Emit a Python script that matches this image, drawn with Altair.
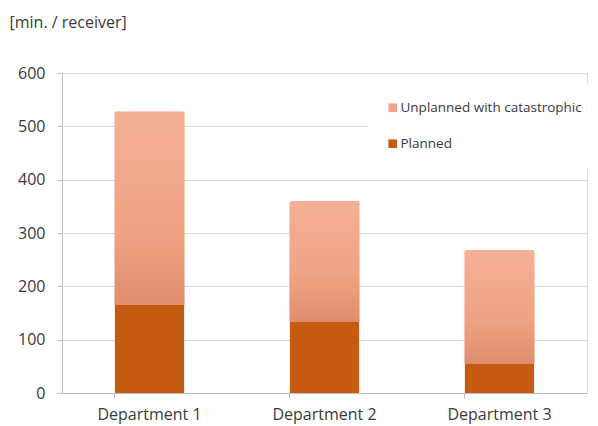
import altair as alt
import pandas as pd

departments = ["Department 1", "Department 2", "Department 3"]
planned = [165, 133, 56]
unplanned = [363, 227, 212]
series = ["Unplanned with catastrophic", "Planned"]
colors = ["#F0A488", "#C55A11"]
y_ticks = [0, 100, 200, 300, 400, 500, 600]

rows = []
for d, p, u in zip(departments, planned, unplanned):
    rows.append({"Department": d, "Series": series[1], "value": p, "order": 0})
    rows.append({"Department": d, "Series": series[0], "value": u, "order": 1})
long_df = pd.DataFrame(rows)

wide_df = pd.DataFrame({
    "Department": departments,
    "planned": planned,
    "total": [p + u for p, u in zip(planned, unplanned)],
})

FONT = "Open Sans"
TXT = "#3A3A3A"

x_enc = alt.X(
    "Department:N",
    sort=departments,
    title=None,
    scale=alt.Scale(paddingInner=0.6, paddingOuter=0.3),
    axis=alt.Axis(
        labelAngle=0, labelFontSize=16, labelColor=TXT, labelFont=FONT,
        domainColor="#BFBFBF", tickColor="#BFBFBF", tickSize=5,
        bandPosition=0, labelPadding=8,
    ),
)
y_scale = alt.Scale(domain=[0, 600])
y_axis = alt.Axis(
    values=y_ticks, title="[min. / receiver]", titleAngle=0, titleAlign="left",
    titleBaseline="middle", titleX=-53, titleY=-51, titleFont=FONT,
    titleFontSize=16, titleFontWeight="normal", titleColor=TXT,
    labelFontSize=16, labelColor=TXT, labelFont=FONT, labelPadding=12,
    gridColor="#D9D9D9", domainColor="#BFBFBF", tickColor="#BFBFBF", tickSize=5,
)

base = alt.Chart(long_df).mark_bar(cornerRadiusTopLeft=2, cornerRadiusTopRight=2).encode(
    x=x_enc,
    y=alt.Y("value:Q", stack="zero", scale=y_scale, axis=y_axis),
    color=alt.Color(
        "Series:N",
        scale=alt.Scale(domain=series, range=colors),
        legend=alt.Legend(
            title=None, orient="none", legendX=306, legendY=10, padding=18,
            fillColor="white", symbolType="square", symbolSize=75,
            symbolStrokeWidth=0, labelFontSize=13.5, labelFont=FONT,
            labelColor=TXT, rowPadding=21, labelOffset=1, labelLimit=400,
        ),
    ),
    order=alt.Order("order:Q"),
)

gradient = alt.Gradient(
    gradient="linear",
    stops=[
        alt.GradientStop(color="#F4B095", offset=0),
        alt.GradientStop(color="#F0A385", offset=0.6),
        alt.GradientStop(color="#DF8E6D", offset=1),
    ],
    x1=0, x2=0, y1=0, y2=1,
)

grad = alt.Chart(wide_df).mark_bar(
    fill=gradient, cornerRadiusTopLeft=2, cornerRadiusTopRight=2
).encode(
    x=x_enc,
    y=alt.Y("planned:Q", scale=y_scale, axis=y_axis),
    y2="total:Q",
)

chart = alt.layer(base, grad).properties(
    width=525, height=320,
    autosize=alt.AutoSizeParams(type="none"),
    padding={"left": 62, "top": 73, "right": 11, "bottom": 33},
).configure_view(stroke=None).configure(background="white")

chart.save("out.html", embed_options={"renderer": "svg", "actions": False})
